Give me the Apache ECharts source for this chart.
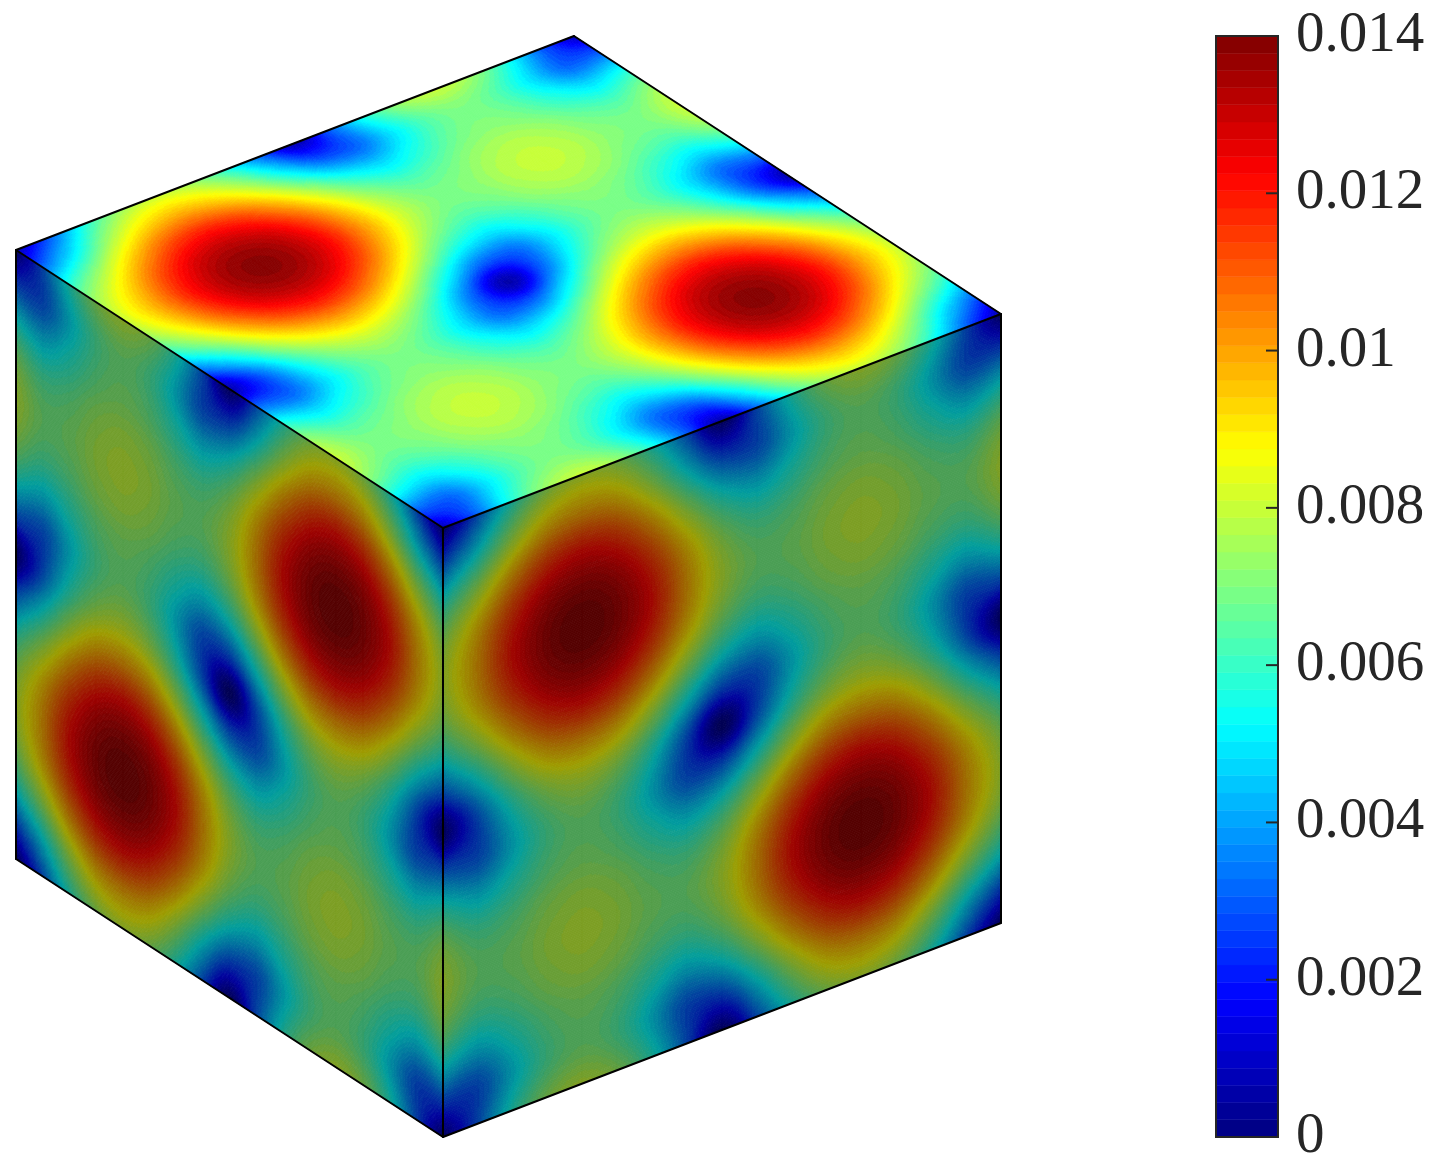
<!DOCTYPE html>
<html><head><meta charset="utf-8">
<style>html,body{margin:0;padding:0;background:#fff}#c{width:1449px;height:1163px}</style>
<script src="https://cdn.jsdelivr.net/npm/echarts@6/dist/echarts.min.js"></script>
</head><body><div id="c"></div>
<script>
// Values, in units of 1e-3, nodes at 1/16 steps of each face.
const topFace = [
[0.6,3.1,5.7,7.4,8.0,7.4,5.7,3.1,0.6,3.1,5.7,7.4,8.0,7.4,5.7,3.1,0.6],
[3.1,5.3,7.7,9.3,9.9,9.3,7.7,5.3,3.1,3.1,4.9,6.4,7.0,6.4,4.9,3.1,3.1],
[5.7,7.7,9.8,11.4,12.0,11.4,9.8,7.7,5.7,4.9,5.7,6.7,7.1,6.7,5.7,4.9,5.7],
[7.4,9.3,11.4,12.9,13.4,12.9,11.4,9.3,7.4,6.4,6.7,7.4,7.7,7.4,6.7,6.4,7.4],
[8.0,9.9,12.0,13.4,13.9,13.4,12.0,9.9,8.0,7.0,7.1,7.7,8.0,7.7,7.1,7.0,8.0],
[7.4,9.3,11.4,12.9,13.4,12.9,11.4,9.3,7.4,6.4,6.7,7.4,7.7,7.4,6.7,6.4,7.4],
[5.7,7.7,9.8,11.4,12.0,11.4,9.8,7.7,5.7,4.9,5.7,6.7,7.1,6.7,5.7,4.9,5.7],
[3.1,5.3,7.7,9.3,9.9,9.3,7.7,5.3,3.1,3.1,4.9,6.4,7.0,6.4,4.9,3.1,3.1],
[0.6,3.1,5.7,7.4,8.0,7.4,5.7,3.1,0.6,3.1,5.7,7.4,8.0,7.4,5.7,3.1,0.6],
[3.1,3.1,4.9,6.4,7.0,6.4,4.9,3.1,3.1,5.3,7.7,9.3,9.9,9.3,7.7,5.3,3.1],
[5.7,4.9,5.7,6.7,7.1,6.7,5.7,4.9,5.7,7.7,9.8,11.4,12.0,11.4,9.8,7.7,5.7],
[7.4,6.4,6.7,7.4,7.7,7.4,6.7,6.4,7.4,9.3,11.4,12.9,13.4,12.9,11.4,9.3,7.4],
[8.0,7.0,7.1,7.7,8.0,7.7,7.1,7.0,8.0,9.9,12.0,13.4,13.9,13.4,12.0,9.9,8.0],
[7.4,6.4,6.7,7.4,7.7,7.4,6.7,6.4,7.4,9.3,11.4,12.9,13.4,12.9,11.4,9.3,7.4],
[5.7,4.9,5.7,6.7,7.1,6.7,5.7,4.9,5.7,7.7,9.8,11.4,12.0,11.4,9.8,7.7,5.7],
[3.1,3.1,4.9,6.4,7.0,6.4,4.9,3.1,3.1,5.3,7.7,9.3,9.9,9.3,7.7,5.3,3.1],
[0.6,3.1,5.7,7.4,8.0,7.4,5.7,3.1,0.6,3.1,5.7,7.4,8.0,7.4,5.7,3.1,0.6]
];
const rightFace = [
[0.1,3.1,5.7,7.4,8.0,7.4,5.7,3.1,0.1,3.1,5.7,7.4,8.0,7.4,5.7,3.1,0.1],
[3.1,5.3,7.7,9.4,9.9,9.4,7.7,5.3,3.1,3.1,4.9,6.4,7.0,6.4,4.9,3.1,3.1],
[5.7,7.7,9.9,11.5,12.1,11.5,9.9,7.7,5.7,4.9,5.7,6.7,7.1,6.7,5.7,4.9,5.7],
[7.4,9.4,11.5,13.0,13.5,13.0,11.5,9.4,7.4,6.4,6.7,7.4,7.7,7.4,6.7,6.4,7.4],
[8.0,9.9,12.1,13.5,14.0,13.5,12.1,9.9,8.0,7.0,7.1,7.7,8.0,7.7,7.1,7.0,8.0],
[7.4,9.4,11.5,13.0,13.5,13.0,11.5,9.4,7.4,6.4,6.7,7.4,7.7,7.4,6.7,6.4,7.4],
[5.7,7.7,9.9,11.5,12.1,11.5,9.9,7.7,5.7,4.9,5.7,6.7,7.1,6.7,5.7,4.9,5.7],
[3.1,5.3,7.7,9.4,9.9,9.4,7.7,5.3,3.1,3.1,4.9,6.4,7.0,6.4,4.9,3.1,3.1],
[0.1,3.1,5.7,7.4,8.0,7.4,5.7,3.1,0.1,3.1,5.7,7.4,8.0,7.4,5.7,3.1,0.1],
[3.1,3.1,4.9,6.4,7.0,6.4,4.9,3.1,3.1,5.3,7.7,9.4,9.9,9.4,7.7,5.3,3.1],
[5.7,4.9,5.7,6.7,7.1,6.7,5.7,4.9,5.7,7.7,9.9,11.5,12.1,11.5,9.9,7.7,5.7],
[7.4,6.4,6.7,7.4,7.7,7.4,6.7,6.4,7.4,9.4,11.5,13.0,13.5,13.0,11.5,9.4,7.4],
[8.0,7.0,7.1,7.7,8.0,7.7,7.1,7.0,8.0,9.9,12.1,13.5,14.0,13.5,12.1,9.9,8.0],
[7.4,6.4,6.7,7.4,7.7,7.4,6.7,6.4,7.4,9.4,11.5,13.0,13.5,13.0,11.5,9.4,7.4],
[5.7,4.9,5.7,6.7,7.1,6.7,5.7,4.9,5.7,7.7,9.9,11.5,12.1,11.5,9.9,7.7,5.7],
[3.1,3.1,4.9,6.4,7.0,6.4,4.9,3.1,3.1,5.3,7.7,9.4,9.9,9.4,7.7,5.3,3.1],
[0.1,3.1,5.7,7.4,8.0,7.4,5.7,3.1,0.1,3.1,5.7,7.4,8.0,7.4,5.7,3.1,0.1]
];
const leftFace = [
[0.1,3.1,5.7,7.4,8.0,7.4,5.7,3.1,0.1,3.1,5.7,7.4,8.0,7.4,5.7,3.1,0.1],
[3.1,3.1,4.9,6.4,7.0,6.4,4.9,3.1,3.1,5.3,7.7,9.4,9.9,9.4,7.7,5.3,3.1],
[5.7,4.9,5.7,6.7,7.1,6.7,5.7,4.9,5.7,7.7,9.9,11.5,12.1,11.5,9.9,7.7,5.7],
[7.4,6.4,6.7,7.4,7.7,7.4,6.7,6.4,7.4,9.4,11.5,13.0,13.5,13.0,11.5,9.4,7.4],
[8.0,7.0,7.1,7.7,8.0,7.7,7.1,7.0,8.0,9.9,12.1,13.5,14.0,13.5,12.1,9.9,8.0],
[7.4,6.4,6.7,7.4,7.7,7.4,6.7,6.4,7.4,9.4,11.5,13.0,13.5,13.0,11.5,9.4,7.4],
[5.7,4.9,5.7,6.7,7.1,6.7,5.7,4.9,5.7,7.7,9.9,11.5,12.1,11.5,9.9,7.7,5.7],
[3.1,3.1,4.9,6.4,7.0,6.4,4.9,3.1,3.1,5.3,7.7,9.4,9.9,9.4,7.7,5.3,3.1],
[0.1,3.1,5.7,7.4,8.0,7.4,5.7,3.1,0.1,3.1,5.7,7.4,8.0,7.4,5.7,3.1,0.1],
[3.1,5.3,7.7,9.4,9.9,9.4,7.7,5.3,3.1,3.1,4.9,6.4,7.0,6.4,4.9,3.1,3.1],
[5.7,7.7,9.9,11.5,12.1,11.5,9.9,7.7,5.7,4.9,5.7,6.7,7.1,6.7,5.7,4.9,5.7],
[7.4,9.4,11.5,13.0,13.5,13.0,11.5,9.4,7.4,6.4,6.7,7.4,7.7,7.4,6.7,6.4,7.4],
[8.0,9.9,12.1,13.5,14.0,13.5,12.1,9.9,8.0,7.0,7.1,7.7,8.0,7.7,7.1,7.0,8.0],
[7.4,9.4,11.5,13.0,13.5,13.0,11.5,9.4,7.4,6.4,6.7,7.4,7.7,7.4,6.7,6.4,7.4],
[5.7,7.7,9.9,11.5,12.1,11.5,9.9,7.7,5.7,4.9,5.7,6.7,7.1,6.7,5.7,4.9,5.7],
[3.1,5.3,7.7,9.4,9.9,9.4,7.7,5.3,3.1,3.1,4.9,6.4,7.0,6.4,4.9,3.1,3.1],
[0.1,3.1,5.7,7.4,8.0,7.4,5.7,3.1,0.1,3.1,5.7,7.4,8.0,7.4,5.7,3.1,0.1]
];
const colorbarTicks = [0, 0.002, 0.004, 0.006, 0.008, 0.01, 0.012, 0.014];
const colorbarMax = 0.014;
const colorLevels = 64;

// Colormap (64 level jet) and shading
function clamp01(x){return Math.max(0,Math.min(1,x));}
function jet(i, shade){
  const t=(i+0.5)/colorLevels;
  const r=clamp01(Math.min(4*t-1.5,-4*t+4.5)),g=clamp01(Math.min(4*t-0.5,-4*t+3.5)),b=clamp01(Math.min(4*t+0.5,-4*t+2.5));
  return 'rgb('+Math.round(r*255*shade)+','+Math.round(g*255*shade)+','+Math.round(b*255*shade)+')';
}
// Oblique view of the unit cube, in the hidden axes' [0,1] units
const O=[0,0.1944],U=[0.5665,-0.1944],V=[0.4335,0.2525],W=[0,0.5531];
const add=(a,b)=>[a[0]+b[0],a[1]+b[1]];
const F=add(O,V);
const faces=[
 {grid:leftFace,o:O,du:V,dv:W,shade:0.62},
 {grid:rightFace,o:F,du:U,dv:W,shade:0.62},
 {grid:topFace,o:O,du:U,dv:V,shade:1}
];
const cubeEdges=[
 [O,add(O,U)],[add(O,U),add(add(O,U),V)],[add(add(O,U),V),F],[F,O],
 [O,add(O,W)],[add(O,W),add(F,W)],[add(F,W),F],
 [add(F,W),add(add(F,U),W)],[add(add(F,U),W),add(F,U)]
];
// "interp" shading between grid nodes
function node(g,r,c){
  const n=g.length;
  if(r<0) return 2*node(g,0,c)-node(g,1,c);
  if(r>=n) return 2*node(g,n-1,c)-node(g,n-2,c);
  if(c<0) return 2*node(g,r,0)-node(g,r,1);
  if(c>=n) return 2*node(g,r,n-1)-node(g,r,n-2);
  return g[r][c];
}
function cr(a,b,c,d,t){return 0.5*(2*b+(c-a)*t+(2*a-5*b+4*c-d)*t*t+(3*b-a-3*c+d)*t*t*t);}
function shadeAt(g,r,c,tr,tc){
  const v=[];
  for(let k=-1;k<=2;k++) v.push(cr(node(g,r+k,c-1),node(g,r+k,c),node(g,r+k,c+1),node(g,r+k,c+2),tc));
  return cr(v[0],v[1],v[2],v[3],tr);
}
const SUB=22;
const cellData=[];
faces.forEach((f,fi)=>{for(let r=0;r<f.grid.length-1;r++)for(let c=0;c<f.grid.length-1;c++)cellData.push([fi,r,c,f.grid[r][c]]);});

function renderCell(params,api){
  const f=faces[api.value(0)],r=api.value(1),c=api.value(2),N=f.grid.length-1;
  const pt=(cc,rr)=>api.coord([f.o[0]+f.du[0]*cc/N+f.dv[0]*rr/N,f.o[1]+f.du[1]*cc/N+f.dv[1]*rr/N]);
  const children=[];
  for(let sr=0;sr<SUB;sr++){
    let start=0,cur=-1;
    for(let sc=0;sc<=SUB;sc++){
      let lvl=-2;
      if(sc<SUB){
        const val=shadeAt(f.grid,r,c,(sr+0.5)/SUB,(sc+0.5)/SUB)/1000;
        lvl=Math.max(0,Math.min(colorLevels-1,Math.floor(val/colorbarMax*colorLevels)));
      }
      if(lvl!==cur){
        if(cur>=0){
          const col=jet(cur,f.shade);
          const c0=c+start/SUB,c1=c+sc/SUB,r0=r+sr/SUB,r1=r+(sr+1)/SUB;
          children.push({type:'polygon',silent:true,shape:{points:[pt(c0,r0),pt(c1,r0),pt(c1,r1),pt(c0,r1)]},style:{fill:col,stroke:col,lineWidth:0.8}});
        }
        start=sc;cur=lvl;
      }
    }
  }
  return {type:'group',children:children};
}
function renderEdge(params,api){
  const e=cubeEdges[params.dataIndex];
  return {type:'line',shape:{x1:api.coord(e[0])[0],y1:api.coord(e[0])[1],x2:api.coord(e[1])[0],y2:api.coord(e[1])[1]},style:{stroke:'#000',lineWidth:2,lineCap:'round'}};
}
function renderBand(params,api){
  const i=api.value(0);
  const a=api.coord([0,i/colorLevels*colorbarMax]),b=api.coord([1,(i+1)/colorLevels*colorbarMax]);
  return {type:'rect',shape:{x:a[0],y:b[1],width:b[0]-a[0],height:a[1]-b[1]},style:{fill:jet(i,1),stroke:jet(i,1),lineWidth:0.5}};
}
function renderBox(params,api){
  const a=api.coord([0,0]),b=api.coord([1,colorbarMax]);
  return {type:'rect',shape:{x:a[0],y:b[1],width:b[0]-a[0],height:a[1]-b[1]},style:{fill:'none',stroke:'#262626',lineWidth:2}};
}
function renderTick(params,api){
  const p=api.coord([1,api.value(0)]);
  return {type:'line',shape:{x1:p[0]-12,y1:p[1],x2:p[0],y2:p[1]},style:{stroke:'#262626',lineWidth:2}};
}
const bandData=[];for(let i=0;i<colorLevels;i++)bandData.push([i]);

const chart=echarts.init(document.getElementById('c'),null,{renderer:'canvas'});
chart.setOption({
  animation:false,backgroundColor:'#fff',
  grid:[{left:16,top:36,width:985,height:1101,outerBoundsMode:'none'},{left:1216,top:36,width:62,height:1101,outerBoundsMode:'none'}],
  xAxis:[{type:'value',gridIndex:0,min:0,max:1,show:false},{type:'value',gridIndex:1,min:0,max:1,show:false}],
  yAxis:[{type:'value',gridIndex:0,min:0,max:1,inverse:true,show:false},
    {type:'value',gridIndex:1,position:'right',min:0,max:colorbarMax,interval:0.002,z:5,
     splitLine:{show:false},axisLine:{show:false},axisTick:{show:false},
     axisLabel:{margin:18,color:'#262626',fontFamily:'Liberation Serif',fontSize:57,lineHeight:57,padding:[0,0,6,0],
       formatter:v=>String(+v.toFixed(3))}}],
  tooltip:{show:false},
  series:[
    {type:'custom',xAxisIndex:0,yAxisIndex:0,clip:false,silent:true,progressive:0,renderItem:renderCell,data:cellData,encode:{x:-1,y:-1},z:2},
    {type:'custom',xAxisIndex:0,yAxisIndex:0,clip:false,silent:true,progressive:0,renderItem:renderEdge,data:cubeEdges.map((e,i)=>[i]),encode:{x:-1,y:-1},z:3},
    {type:'custom',xAxisIndex:1,yAxisIndex:1,clip:false,silent:true,progressive:0,renderItem:renderBand,data:bandData,encode:{x:-1,y:-1},z:2},
    {type:'custom',xAxisIndex:1,yAxisIndex:1,clip:false,silent:true,progressive:0,renderItem:renderTick,data:colorbarTicks.map(t=>[t]),encode:{x:-1,y:-1},z:3},
    {type:'custom',xAxisIndex:1,yAxisIndex:1,clip:false,silent:true,progressive:0,renderItem:renderBox,data:[[0]],encode:{x:-1,y:-1},z:3}
  ]
});
</script></body></html>
